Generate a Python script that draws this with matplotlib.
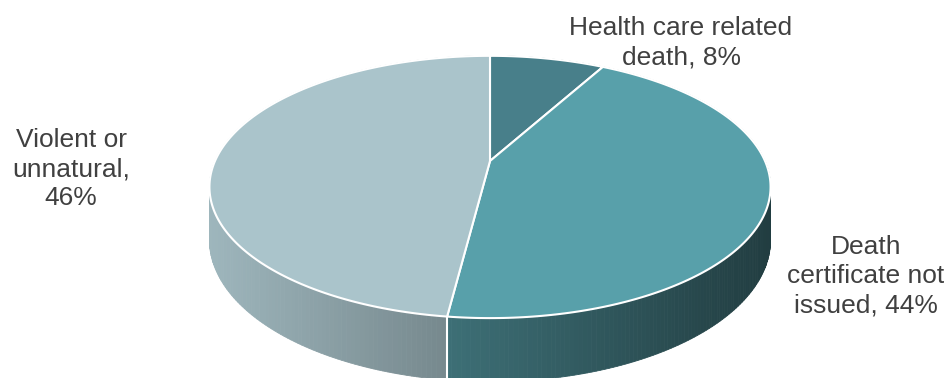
import numpy as np
import matplotlib

matplotlib.use("Agg")
import matplotlib.pyplot as plt
from matplotlib.patches import Polygon

# slices go clockwise from 12 o'clock; the last one closes the circle
labels = ["Health care related\ndeath, 8%",
          "Death\ncertificate not\nissued, 44%",
          "Violent or\nunnatural,\n46%"]
shares = [8, 44, 46]
colors = ["#487f8a", "#58a0aa", "#aac4cb"]

# pie geometry in pixel units (perspective-projected disc)
CX, CY = 490, 161
R, B, K = 275, 126, 0.198
DEPTH = 51


def project(theta, drop=0.0):
    x, y = np.sin(theta), np.cos(theta)
    d = 1 + K * y
    return CX + R * x / d, CY - B * y / d + drop / d


def shade(hex_color, sx):
    f = 0.93 - 0.55 * (sx - 208) / 562
    rgb = np.array(matplotlib.colors.to_rgb(hex_color))
    return tuple(np.clip(rgb * f, 0, 1))


fig = plt.figure(figsize=(9.5, 3.78), dpi=100, facecolor="white")
ax = fig.add_axes([0, 0, 1, 1])
ax.set_xlim(0, 950)
ax.set_ylim(378, 0)
ax.set_axis_off()

# percentages are rounded, so the last slice takes whatever is left
edges = np.concatenate([[0], np.cumsum(shares[:-1]) / 100, [1]]) * 2 * np.pi

# side walls, built from thin quads so the shading can vary across them
for i, c in enumerate(colors):
    ts = np.linspace(edges[i], edges[i + 1], 200)
    for t0, t1 in zip(ts[:-1], ts[1:]):
        quad = [project(t0), project(t1), project(t1, DEPTH), project(t0, DEPTH)]
        col = shade(c, (quad[0][0] + quad[1][0]) / 2)
        ax.add_patch(Polygon(quad, closed=True, facecolor=col, edgecolor=col,
                             linewidth=0.6, zorder=1))

for t in edges[:-1]:
    (x0, y0), (x1, y1) = project(t), project(t, DEPTH)
    ax.plot([x0, x1], [y0, y1], color="white", lw=1.5, zorder=2)

# top faces
for i, c in enumerate(colors):
    ts = np.linspace(edges[i], edges[i + 1], 200)
    pts = [(CX, CY)] + [project(t) for t in ts]
    ax.add_patch(Polygon(pts, closed=True, facecolor=c, edgecolor="white",
                         linewidth=1.5, joinstyle="round", zorder=3))

label_pos = [(681, 43), (866, 276), (71, 169)]
for text, (x, y) in zip(labels, label_pos):
    ax.text(x, y, text, ha="center", va="center", fontsize=19,
            family="Liberation Sans", color="#404040", linespacing=1.28,
            zorder=4)

fig.savefig("out.png", dpi=100, facecolor="white")
